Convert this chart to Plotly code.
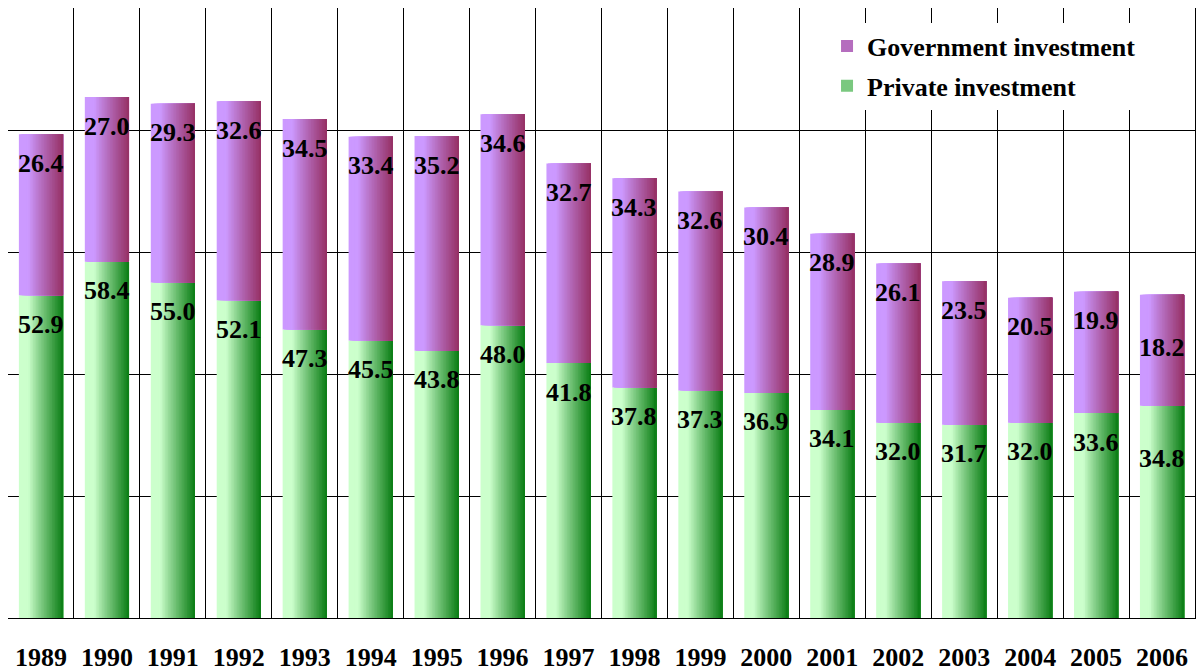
import plotly.graph_objects as go

years = ["1989", "1990", "1991", "1992", "1993", "1994", "1995", "1996", "1997",
         "1998", "1999", "2000", "2001", "2002", "2003", "2004", "2005", "2006"]
private_investment = [52.9, 58.4, 55.0, 52.1, 47.3, 45.5, 43.8, 48.0, 41.8,
                      37.8, 37.3, 36.9, 34.1, 32.0, 31.7, 32.0, 33.6, 34.8]
government_investment = [26.4, 27.0, 29.3, 32.6, 34.5, 33.4, 35.2, 34.6, 32.7,
                          34.3, 32.6, 30.4, 28.9, 26.1, 23.5, 20.5, 19.9, 18.2]

FONT = "Liberation Serif"
BAR_W = 0.67
N = 28


def mix(c1, c2, t):
    return "rgb(%d,%d,%d)" % tuple(round(a + (b - a) * t) for a, b in zip(c1, c2))


def profile(s):
    t = max(0.0, (s - 0.22) / 0.78)
    return t ** 0.9


series = [
    ("Private investment", private_investment, [0] * len(years),
     (204, 255, 204), (10, 125, 20), 2),
    ("Government investment", government_investment, private_investment,
     (204, 153, 255), (150, 48, 100), 1),
]

fig = go.Figure()
for name, vals, base, light, dark, rank in series:
    for k in range(N):
        s = (k + 0.5) / N
        off = -BAR_W / 2 + k * BAR_W / N
        fig.add_trace(go.Bar(
            x=years, y=vals, base=base,
            offset=off, width=BAR_W - k * BAR_W / N,
            marker=dict(color=mix(light, dark, profile(s)), line=dict(width=0)),
            name=name, legendgroup=name, legendrank=rank,
            showlegend=(k == N // 2), hoverinfo="skip",
        ))

# value labels (x given as category index)
extra = {"2006": -24}
for i, yr in enumerate(years):
    p = private_investment[i]
    g = government_investment[i]
    for val, top in ((p, p), (g, p + g)):
        fig.add_annotation(
            x=i, y=top, xref="x", yref="y", text=f"{val:.1f}", showarrow=False,
            yshift=-29 + extra.get(yr, 0),
            font=dict(family=FONT, size=26, color="black", weight="bold"),
        )

fig.update_layout(
    width=1204, height=670,
    margin=dict(l=0, r=17, t=0, b=60, autoexpand=False),
    barmode="overlay",
    plot_bgcolor="white", paper_bgcolor="white",
    showlegend=True,
    legend=dict(
        x=0.690, y=0.976, xanchor="left", yanchor="top",
        bgcolor="white", borderwidth=0,
        font=dict(family=FONT, size=26, color="black", weight="bold"),
        traceorder="grouped", tracegroupgap=3,
    ),
    xaxis=dict(
        type="category", range=[-0.5, 17.5], tickson="boundaries",
        showgrid=True, gridcolor="black", gridwidth=1, automargin=False,
        showline=True, linecolor="black", linewidth=1, mirror=True,
        ticks="", ticklabelstandoff=16,
        tickfont=dict(family=FONT, size=26, color="black", weight="bold"),
    ),
    yaxis=dict(
        range=[0, 100], dtick=20, showticklabels=False, automargin=False,
        showgrid=True, gridcolor="black", gridwidth=1, zeroline=False,
        showline=True, linecolor="black", linewidth=1, mirror=True,
    ),
)

fig.write_html("out.html")
